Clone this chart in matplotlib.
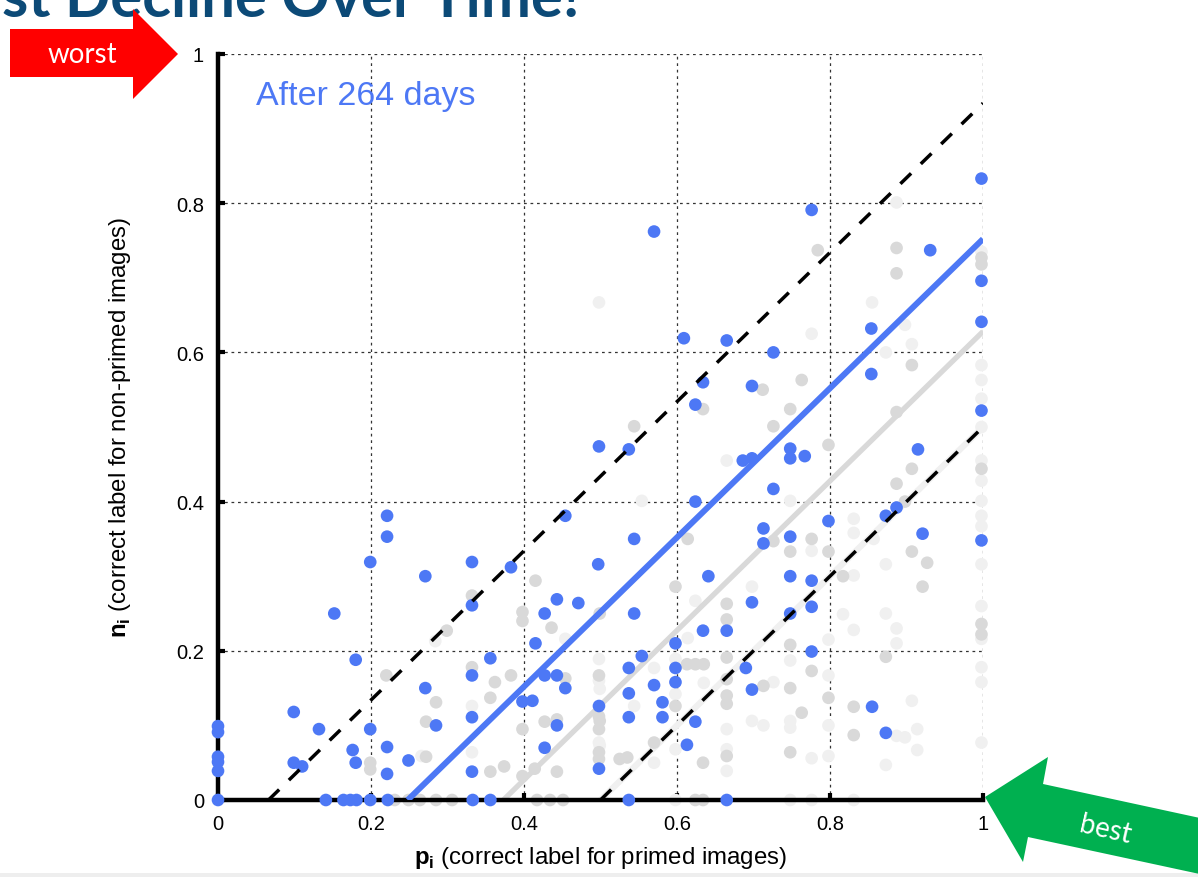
import matplotlib
matplotlib.use("Agg")
import matplotlib.pyplot as plt
from matplotlib.patches import Polygon, Rectangle

plt.rcParams['font.family'] = ['Liberation Sans', 'DejaVu Sans']
plt.rcParams['mathtext.fontset'] = 'custom'
plt.rcParams['mathtext.bf'] = 'Liberation Sans:bold'
plt.rcParams['mathtext.rm'] = 'Liberation Sans'

# ---------------- data ----------------
tick_vals = [0, 0.2, 0.4, 0.6, 0.8, 1]
tick_labels = ["0", "0.2", "0.4", "0.6", "0.8", "1"]

blue_x = [0, 0, 0, 0, 0, 0,
          0.141, 0.164, 0.173, 0.181, 0.199, 0.222, 0.333, 0.356, 0.537, 0.665,
          0.221, 0.221, 0.199, 0.271, 0.332, 0.383, 0.454, 0.497,
          0.152, 0.332, 0.443, 0.427, 0.471, 0.415, 0.180, 0.356,
          0.332, 0.427, 0.443, 0.454, 0.271, 0.398, 0.411, 0.498,
          0.099, 0.132, 0.199, 0.285, 0.332, 0.443, 0.221, 0.176,
          0.427, 0.099, 0.110, 0.180, 0.249, 0.221, 0.332, 0.498,
          0.624, 0.998, 0.498, 0.537, 0.686, 0.698, 0.748, 0.748,
          0.767, 0.915, 0.726, 0.624, 0.873, 0.887, 0.798, 0.921,
          0.998, 0.544, 0.713, 0.713, 0.748,
          0.641, 0.748, 0.776, 0.698, 0.776, 0.544, 0.748, 0.634,
          0.665, 0.598, 0.554, 0.776, 0.537, 0.598, 0.598, 0.570,
          0.690, 0.698, 0.537, 0.581, 0.855, 0.537, 0.581, 0.624,
          0.873, 0.613,
          0.570, 0.776, 0.998, 0.931, 0.998, 0.998, 0.854, 0.854,
          0.609, 0.665, 0.726, 0.634, 0.698]
blue_y = [0.099, 0.091, 0.058, 0.051, 0.039, 0.0,
          0, 0, 0, 0, 0, 0, 0, 0, 0, 0,
          0.381, 0.353, 0.319, 0.300, 0.319, 0.312, 0.381, 0.316,
          0.250, 0.261, 0.269, 0.250, 0.264, 0.210, 0.188, 0.190,
          0.167, 0.167, 0.167, 0.150, 0.150, 0.132, 0.133, 0.126,
          0.118, 0.095, 0.095, 0.100, 0.111, 0.100, 0.071, 0.067,
          0.070, 0.050, 0.045, 0.050, 0.053, 0.035, 0.038, 0.042,
          0.530, 0.522, 0.474, 0.470, 0.455, 0.458, 0.471, 0.458,
          0.461, 0.470, 0.417, 0.400, 0.381, 0.392, 0.374, 0.357,
          0.348, 0.350, 0.364, 0.344, 0.353,
          0.300, 0.300, 0.294, 0.265, 0.259, 0.250, 0.250, 0.227,
          0.227, 0.210, 0.193, 0.199, 0.177, 0.177, 0.158, 0.154,
          0.177, 0.148, 0.143, 0.131, 0.125, 0.111, 0.111, 0.105,
          0.090, 0.074,
          0.762, 0.791, 0.833, 0.737, 0.696, 0.641, 0.632, 0.571,
          0.619, 0.616, 0.600, 0.560, 0.555]

gray_x = [0.784, 0.887, 0.887, 0.998, 0.998, 0.763, 0.712, 0.748, 0.634, 0.907, 0.544, 0.726, 0.887,
          0.415, 0.332, 0.398, 0.398, 0.436, 0.299, 0.220, 0.332, 0.383, 0.362, 0.454, 0.285, 0.356,
          0.272, 0.427, 0.443, 0.398, 0.272, 0.356, 0.374, 0.443, 0.398, 0.414,
          0.498, 0.498, 0.498, 0.498, 0.498, 0.525,
          0.231, 0.249, 0.264, 0.285, 0.306, 0.417, 0.434, 0.451, 0.624, 0.634,
          0.199, 0.199,
          0.907, 0.887, 0.898, 0.907, 0.927, 0.921, 0.817, 0.873, 0.831, 0.831, 0.998, 0.998, 0.998,
          0.798, 0.614, 0.726, 0.776, 0.748, 0.798, 0.598, 0.665, 0.665, 0.499, 0.748, 0.665, 0.598,
          0.499, 0.535, 0.570, 0.634, 0.665, 0.665, 0.665, 0.665, 0.713, 0.748, 0.748, 0.763, 0.776,
          0.798, 0.624, 0.635, 0.613]
gray_y = [0.737, 0.740, 0.706, 0.727, 0.718, 0.563, 0.550, 0.524, 0.524, 0.583, 0.501, 0.501, 0.520,
          0.294, 0.274, 0.252, 0.240, 0.231, 0.227, 0.167, 0.178, 0.167, 0.158, 0.163, 0.131, 0.137,
          0.105, 0.105, 0.108, 0.095, 0.058, 0.038, 0.045, 0.038, 0.032, 0.042,
          0.167, 0.095, 0.064, 0.055, 0.112, 0.055,
          0, 0, 0, 0, 0, 0, 0, 0, 0, 0,
          0.050, 0.041,
          0.444, 0.424, 0.400, 0.333, 0.318, 0.286, 0.300, 0.192, 0.125, 0.087, 0.444, 0.236, 0.222,
          0.476, 0.350, 0.347, 0.350, 0.333, 0.333, 0.286, 0.263, 0.242, 0.250, 0.208, 0.191, 0.126,
          0.106, 0.057, 0.077, 0.050, 0.162, 0.140, 0.129, 0.059, 0.153, 0.150, 0.064, 0.117, 0.173,
          0.137, 0.182, 0.182, 0.182]

light_x = [0.498, 0.887, 0.855, 0.776, 0.898, 0.907, 0.873, 0.998, 0.998, 0.998, 0.998, 0.998,
           0.332, 0.332, 0.266, 0.454, 0.498, 0.498, 0.498, 0.284,
           0.831, 0.831, 0.857, 0.831, 0.873, 0.817, 0.873, 0.831, 0.887, 0.887, 0.907, 0.914,
           0.898, 0.887, 0.914, 0.873, 0.831,
           0.998, 0.998, 0.998, 0.998, 0.998, 0.998, 0.998, 0.998, 0.998, 0.998, 0.998,
           0.665, 0.554, 0.748, 0.776, 0.698, 0.624, 0.798, 0.614, 0.499, 0.499, 0.598, 0.598,
           0.570, 0.544, 0.635, 0.748, 0.726, 0.698, 0.713, 0.748, 0.748, 0.798, 0.798, 0.798,
           0.776, 0.665, 0.665, 0.665, 0.570, 0.598,
           0.598, 0.748, 0.776]
light_y = [0.667, 0.801, 0.667, 0.625, 0.637, 0.611, 0.600, 0.735, 0.583, 0.563, 0.538, 0.500,
           0.126, 0.064, 0.059, 0.216, 0.189, 0.160, 0.077, 0.213,
           0.377, 0.358, 0.350, 0.301, 0.316, 0.249, 0.250, 0.228, 0.230, 0.210, 0.133, 0.095,
           0.084, 0.086, 0.067, 0.047, 0.0,
           0.455, 0.428, 0.401, 0.381, 0.367, 0.316, 0.260, 0.216, 0.178, 0.158, 0.077,
           0.455, 0.401, 0.401, 0.334, 0.286, 0.267, 0.215, 0.217, 0.149, 0.073, 0.189, 0.142,
           0.177, 0.126, 0.157, 0.187, 0.158, 0.106, 0.100, 0.106, 0.097, 0.167, 0.100, 0.059,
           0.056, 0.095, 0.068, 0.039, 0.050, 0.068,
           0, 0, 0]

# trend / reference lines (endpoints)
blue_fit_x = [0.248, 1.0]
blue_fit_y = [0.0, 0.752]
gray_fit_x = [0.373, 1.0]
gray_fit_y = [0.0, 0.628]
light_fit_x = [0.5, 1.0]
light_fit_y = [0.0, 0.5]
dash_up_x = [0.066, 1.0]
dash_up_y = [0.0, 0.934]
dash_lo_x = [0.5, 1.0]
dash_lo_y = [0.0, 0.5]

# ---------------- figure ----------------
W, H = 1198, 878
fig = plt.figure(figsize=(W / 100, H / 100), dpi=100)
fig.patch.set_facecolor('white')

def px(x, y):
    return (x / W, 1 - y / H)

ax = fig.add_axes([218 / W, 1 - 801 / H, 765 / W, 746 / H])
ax.set_xlim(0, 1)
ax.set_ylim(0, 1)

BLUE = '#4d78f5'
GRAY = '#d9d9d9'
LIGHT = '#f0f0f0'

ax.grid(True, linestyle=(0, (2.2, 3.0)), color='#333333', linewidth=0.9, zorder=0)
ax.set_axisbelow(True)

ax.plot(light_fit_x, light_fit_y, color=LIGHT, lw=4.5, solid_capstyle='butt', zorder=1)
ax.scatter(light_x, light_y, s=83, color=LIGHT, edgecolors='none', zorder=1.5, clip_on=False)
ax.scatter(gray_x, gray_y, s=83, color=GRAY, edgecolors='none', zorder=1.6, clip_on=False)
ax.plot(gray_fit_x, gray_fit_y, color=GRAY, lw=3.8, solid_capstyle='butt', zorder=1.7)
ax.scatter(blue_x, blue_y, s=83, color=BLUE, edgecolors='none', zorder=4, clip_on=False)
ax.plot(blue_fit_x, blue_fit_y, color=BLUE, lw=4.3, solid_capstyle='butt', zorder=4.1)
for xs, ys in [(dash_up_x, dash_up_y), (dash_lo_x, dash_lo_y)]:
    ax.plot(xs, ys, color='black', lw=2.5, linestyle=(0, (4.3, 3.9)),
            dash_capstyle='butt', zorder=5)

for s in ['top', 'right']:
    ax.spines[s].set_visible(False)
for s in ['left', 'bottom']:
    ax.spines[s].set_linewidth(3.2)
    ax.spines[s].set_color('black')
    ax.spines[s].set_zorder(3)

ax.set_xticks(tick_vals)
ax.set_xticklabels(tick_labels)
ax.set_yticks(tick_vals)
ax.set_yticklabels(tick_labels)
ax.tick_params(direction='in', length=5, width=3, color='black', labelsize=14.5,
               top=False, right=False)
ax.tick_params(axis='x', pad=10)
ax.tick_params(axis='y', pad=10)

ax.text(0.05, 0.933, "After 264 days", transform=ax.transAxes, color=BLUE,
        fontsize=24.5, ha='left', va='baseline', zorder=6)

fig.text(600 / W, 1 - 858 / H, r"$\mathbf{p}_\mathbf{i}$ (correct label for primed images)",
         ha='center', va='center', fontsize=17.3)
fig.text(120 / W, 1 - 428 / H, r"$\mathbf{n}_\mathbf{i}$ (correct label for non-primed images)",
         ha='center', va='center', rotation=90, fontsize=17.3)

# title fragment at the top (cut off by the frame)
fig.text(580 / W, 1 - 17 / H, "st Decline Over Time!", ha='right', va='baseline',
         fontsize=43, fontweight='bold', color='#0c4a77', family=['Lato', 'DejaVu Sans'])

# red "worst" arrow
red_pts = [(10, 30), (133, 30), (133, 10), (178, 55), (133, 100), (133, 78), (10, 78)]
fig.patches.append(Polygon([px(*p) for p in red_pts], closed=True, facecolor='#ff0000',
                           edgecolor='none', transform=fig.transFigure, zorder=10))
fig.text(82 / W, 1 - 55 / H, "worst", color='white', fontsize=20, ha='center', va='center',
         family=['Lato', 'DejaVu Sans'], zorder=11)

# green "best" arrow
green_pts = [(985, 798), (1048, 758), (1043, 785), (1260, 832), (1260, 888), (1028, 838), (1023, 863)]
fig.patches.append(Polygon([px(*p) for p in green_pts], closed=True, facecolor='#00b050',
                           edgecolor='none', transform=fig.transFigure, zorder=10))
fig.text(1105 / W, 1 - 830 / H, "best", color='white', fontsize=20, ha='center', va='center',
         rotation=-13, family=['Lato', 'DejaVu Sans'], zorder=11)

fig.patches.append(Rectangle(px(0, 878), 1, 4 / H, facecolor='#eeeeee', edgecolor='none',
                             transform=fig.transFigure, zorder=0))

fig.savefig("out.png", dpi=100)
